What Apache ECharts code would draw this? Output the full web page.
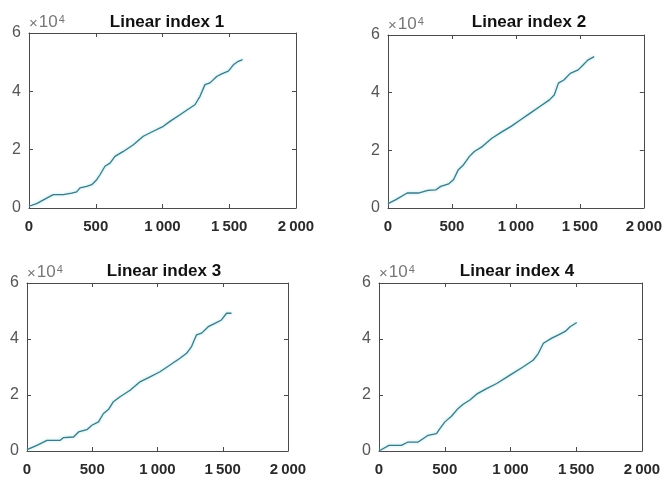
<!DOCTYPE html>
<html><head><meta charset="utf-8">
<script src="https://cdn.jsdelivr.net/npm/echarts@6/dist/echarts.min.js"></script>
<style>html,body{margin:0;padding:0;background:#fff}#c{width:665px;height:481px}</style>
</head><body><div id="c"></div>
<script>
const titles = ['Linear index 1', 'Linear index 2', 'Linear index 3', 'Linear index 4'];
const xTickValues = [0, 500, 1000, 1500, 2000];
const xTickLabels = ['0', '500', '1\u2009000', '1\u2009500', '2\u2009000'];
const yTickValues = [0, 20000, 40000, 60000];
const yTickLabels = ['0', '2', '4', '6'];
const yExponent = '4';

const x1 = [0, 57, 157, 182, 257, 320, 357, 382, 432, 470, 507, 532, 569, 607, 644, 707, 782, 856, 931, 1006, 1056, 1131, 1206, 1243, 1281, 1318, 1356, 1406, 1443, 1493, 1531, 1568, 1600];
const y1 = [600, 1500, 4000, 4600, 4600, 5100, 5500, 6900, 7400, 8000, 9700, 11400, 14300, 15400, 17700, 19400, 21700, 24600, 26300, 28000, 29700, 32000, 34300, 35400, 38300, 42300, 42900, 45100, 46000, 46900, 49100, 50300, 50900];

const x2 = [0, 62, 150, 237, 312, 375, 412, 475, 512, 550, 587, 637, 675, 737, 812, 887, 962, 1037, 1112, 1187, 1262, 1300, 1332, 1375, 1425, 1487, 1525, 1562, 1612];
const y2 = [1500, 2900, 5200, 5200, 6100, 6300, 7500, 8400, 9800, 13300, 14800, 17900, 19600, 21300, 24200, 26300, 28300, 30600, 32900, 35200, 37500, 39200, 43300, 44400, 46700, 47900, 49600, 51300, 52500];

const x3 = [0, 76, 153, 178, 255, 280, 357, 395, 459, 497, 548, 586, 624, 662, 713, 790, 866, 943, 1019, 1096, 1172, 1223, 1261, 1299, 1338, 1389, 1440, 1490, 1529, 1567];
const y3 = [500, 2000, 3800, 3800, 3800, 4800, 5000, 6800, 7600, 9200, 10400, 13400, 14800, 17600, 19400, 21700, 24700, 26500, 28300, 30700, 33100, 34900, 37300, 41500, 42100, 44400, 45600, 46800, 49200, 49200];

const x4 = [0, 30, 76, 170, 221, 297, 335, 373, 437, 463, 501, 551, 602, 640, 691, 742, 818, 895, 996, 1098, 1174, 1212, 1250, 1314, 1365, 1416, 1453, 1504];
const y4 = [0, 800, 2000, 2000, 3200, 3200, 4400, 5600, 6200, 8000, 10400, 12400, 15200, 16700, 18200, 20300, 22300, 24100, 27100, 30100, 32500, 34900, 38500, 40300, 41500, 42700, 44400, 45900];

const xs = [x1, x2, x3, x4];
const ys = [y1, y2, y3, y4];

const grids = [
  { left: 29, top: 33, width: 267, height: 175 },
  { left: 388, top: 35, width: 268, height: 173 },
  { left: 27, top: 283, width: 261, height: 168 },
  { left: 379, top: 283, width: 263, height: 168 }
];
const titlePos = [
  { left: 162, top: 9 },
  { left: 524, top: 9 },
  { left: 159, top: 258 },
  { left: 512, top: 258 }
];

const axisColor = '#4a4a4a';
const font = 'Liberation Sans, Arial, sans-serif';
const xAxes = [], yAxes = [], series = [], title = [];
grids.forEach((g, i) => {
  title.push({
    text: titles[i], left: titlePos[i].left, top: titlePos[i].top, textAlign: 'center',
    textStyle: { fontFamily: font, fontWeight: 'bold', fontSize: 17, color: '#111' }
  });
  const common = {
    type: 'value', gridIndex: i,
    axisLine: { show: true, onZero: false, lineStyle: { color: axisColor, width: 1 } },
    axisTick: { show: true, inside: true, length: 4, lineStyle: { color: axisColor } },
    splitLine: { show: false }
  };
  xAxes.push(Object.assign({}, common, {
    position: 'bottom', min: xTickValues[0], max: xTickValues[xTickValues.length - 1], interval: 500,
    axisLabel: {
      margin: 11, fontSize: 15, fontWeight: 'bold', color: '#2a2a2a', fontFamily: font,
      formatter: v => { const k = xTickValues.indexOf(v); return k >= 0 ? xTickLabels[k] : ''; }
    }
  }));
  xAxes.push(Object.assign({}, common, {
    position: 'top', min: xTickValues[0], max: xTickValues[xTickValues.length - 1], interval: 500,
    axisLabel: { show: false }
  }));
  yAxes.push(Object.assign({}, common, {
    position: 'left', min: yTickValues[0], max: yTickValues[yTickValues.length - 1], interval: 20000,
    name: '{m|\u00d7}{x|10}{s|' + yExponent + '}', nameLocation: 'end', nameGap: 2,
    nameTextStyle: {
      align: 'left', verticalAlign: 'bottom', padding: [0, 0, 0, 0],
      rich: {
        m: { fontSize: 15, color: '#777', fontFamily: font, verticalAlign: 'bottom', padding: [0, 1, 0, 0] },
        x: { fontSize: 17, color: '#777', fontFamily: font, verticalAlign: 'bottom' },
        s: { fontSize: 11, color: '#777', fontFamily: font, verticalAlign: 'top', padding: [0, 0, 0, 1] }
      }
    },
    axisLabel: {
      margin: 8, fontSize: 16, color: '#555', fontFamily: font,
      formatter: v => { const k = yTickValues.indexOf(v); return k >= 0 ? yTickLabels[k] : ''; }
    }
  }));
  yAxes.push(Object.assign({}, common, {
    position: 'right', min: yTickValues[0], max: yTickValues[yTickValues.length - 1], interval: 20000,
    axisLabel: { show: false }
  }));
  series.push({
    type: 'line', xAxisIndex: 2 * i, yAxisIndex: 2 * i,
    data: xs[i].map((x, j) => [x, ys[i][j]]),
    showSymbol: false, smooth: false, animation: false,
    lineStyle: { color: '#3f7a86', width: 1.3, shadowColor: 'rgba(140,220,230,0.9)', shadowBlur: 3 }
  });
});

const chart = echarts.init(document.getElementById('c'), null, { renderer: 'canvas' });
chart.setOption({
  animation: false,
  backgroundColor: '#fff',
  title, grid: grids, xAxis: xAxes, yAxis: yAxes, series
});
</script>
</body></html>
